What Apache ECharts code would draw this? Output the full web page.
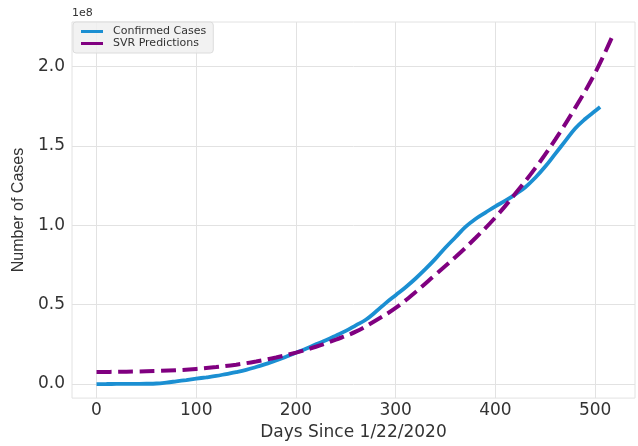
<!DOCTYPE html>
<html>
<head>
<meta charset="utf-8">
<script src="https://cdn.jsdelivr.net/npm/echarts@6/dist/echarts.min.js"></script>
<style>html,body{margin:0;padding:0;background:#fff}#c{width:638px;height:446px}</style>
</head>
<body>
<div id="c"></div>
<script>
// Confirmed cases (units of 1e8) by day since 1/22/2020
const confirmedDays = [0,10,20,30,40,50,60,70,80,90,100,110,120,130,140,150,160,170,180,190,200,210,220,230,240,250,260,270,280,290,300,310,320,330,340,350,360,370,380,390,400,410,420,430,440,450,460,470,480,490,500,505];
const confirmedVals = [0,0.0001,0.0006,0.001,0.0012,0.0017,0.0034,0.0093,0.017,0.025,0.034,0.042,0.051,0.063,0.075,0.089,0.107,0.127,0.148,0.172,0.197,0.222,0.25,0.276,0.305,0.335,0.37,0.405,0.455,0.51,0.56,0.61,0.665,0.725,0.79,0.86,0.925,0.99,1.04,1.08,1.12,1.155,1.195,1.24,1.30,1.37,1.45,1.53,1.61,1.67,1.72,1.745];
// SVR predictions (units of 1e8)
const svrDays = [0,20,40,60,80,100,120,140,160,180,200,220,240,260,280,300,320,340,360,380,400,420,440,460,480,500,518];
const svrVals = [0.076,0.077,0.079,0.082,0.087,0.095,0.107,0.122,0.142,0.167,0.198,0.235,0.28,0.33,0.40,0.48,0.58,0.69,0.80,0.92,1.05,1.20,1.36,1.54,1.74,1.96,2.20];
const xTicks = [0,100,200,300,400,500];
const yTicks = [0,0.5,1.0,1.5,2.0];

const zip = (a,b) => a.map((v,i)=>[v,b[i]]);
const chart = echarts.init(document.getElementById('c'), null, {renderer:'canvas'});
const gridColor = '#e2e2e2';
const textColor = '#333333';
chart.setOption({
  animation:false,
  backgroundColor:'#ffffff',
  grid:{left:72,right:3,top:22,bottom:36,containLabel:false,show:true,borderColor:gridColor,borderWidth:1},
  graphic:[{type:'text',left:72,top:8,style:{text:'1e8',fontSize:11,fontFamily:'DejaVu Sans',fill:textColor}}],
  legend:{
    left:73,top:22,orient:'vertical',
    backgroundColor:'rgba(240,240,240,0.85)',borderColor:'#dcdcdc',borderWidth:1,borderRadius:3,
    padding:[4,7,4,8],itemGap:1,itemWidth:22,itemHeight:3,icon:'rect',
    textStyle:{fontSize:11,fontFamily:'DejaVu Sans',color:textColor,padding:[0,0,0,5]},
    data:['Confirmed Cases','SVR Predictions']
  },
  xAxis:{
    type:'value',min:-24.6,max:540,
    name:'Days Since 1/22/2020',nameLocation:'middle',nameGap:24,
    nameTextStyle:{fontSize:17,fontFamily:'DejaVu Sans',color:textColor},
    axisLine:{show:false},
    axisTick:{show:false,customValues:xTicks},
    axisLabel:{customValues:xTicks,fontSize:17,fontFamily:'DejaVu Sans',color:textColor,margin:4},
    splitLine:{show:true,lineStyle:{color:gridColor,width:1}}
  },
  yAxis:{
    type:'value',min:-0.0886,max:2.281,
    name:'Number of Cases',nameLocation:'middle',nameGap:39,
    nameTextStyle:{fontSize:16,fontFamily:'Liberation Sans',color:textColor},
    axisLine:{show:false},
    axisTick:{show:false,customValues:yTicks},
    axisLabel:{customValues:yTicks,fontSize:17,fontFamily:'DejaVu Sans',color:textColor,margin:7,formatter:v=>v.toFixed(1)},
    splitLine:{show:true,lineStyle:{color:gridColor,width:1}}
  },
  series:[
    {name:'Confirmed Cases',type:'line',data:zip(confirmedDays,confirmedVals),smooth:0.4,showSymbol:false,symbol:'none',
     color:'#1b8fd2',lineStyle:{color:'#1b8fd2',width:3.8},z:2},
    {name:'SVR Predictions',type:'line',data:zip(svrDays,svrVals),smooth:0.4,showSymbol:false,symbol:'none',
     color:'#800080',lineStyle:{color:'#800080',width:4,type:[15,6.5]},z:3}
  ]
});
</script>
</body>
</html>
